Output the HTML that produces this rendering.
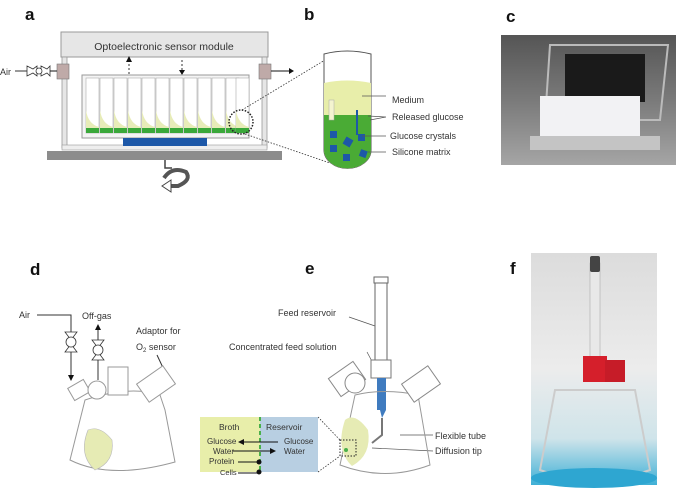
<!DOCTYPE html>
<html><head><meta charset="utf-8"><style>
body{margin:0;background:#fff}
svg{display:block;font-family:"Liberation Sans",sans-serif}
</style></head><body>
<svg width="676" height="495" viewBox="0 0 676 495" xmlns="http://www.w3.org/2000/svg">
<defs>
<linearGradient id="ph" x1="0" y1="0" x2="0" y2="1"><stop offset="0" stop-color="#555"/><stop offset="0.5" stop-color="#7a7a7a"/><stop offset="1" stop-color="#a5a5a5"/></linearGradient>
<linearGradient id="pf" x1="0" y1="0" x2="0" y2="1"><stop offset="0" stop-color="#dcdcdc"/><stop offset="0.5" stop-color="#ececec"/><stop offset="0.8" stop-color="#cfe4ea"/><stop offset="1" stop-color="#3fb0d6"/></linearGradient>
</defs>
<g font-weight="bold" font-size="17" fill="#111">
<text x="25" y="20">a</text><text x="304" y="20">b</text><text x="506" y="22">c</text>
<text x="30" y="275">d</text><text x="305" y="274">e</text><text x="510" y="274">f</text>
</g>
<!-- panel a -->
<rect x="61" y="32" width="207" height="25" fill="#e6e6e6" stroke="#999"/>
<text x="164" y="50" font-size="10.5" text-anchor="middle" fill="#333">Optoelectronic sensor module</text>
<rect x="62" y="57" width="5" height="91" fill="#e6e6e6" stroke="#999" stroke-width="0.8"/>
<rect x="262" y="57" width="5" height="91" fill="#e6e6e6" stroke="#999" stroke-width="0.8"/>
<rect x="62" y="145" width="205" height="5" fill="#eee" stroke="#999" stroke-width="0.6"/>
<rect x="47" y="151" width="235" height="9" fill="#8c8c8c"/>
<rect x="57" y="64" width="12" height="15" fill="#bfaaa8" stroke="#777" stroke-width="0.6"/>
<rect x="259" y="64" width="12" height="15" fill="#bfaaa8" stroke="#777" stroke-width="0.6"/>
<text x="0" y="75" font-size="9" fill="#333">Air</text>
<line x1="15" y1="71" x2="27" y2="71" stroke="#333"/>
<path d="M27 66 L33 69 L37 66 L37 76 L33 73 L27 76Z M41 66 L47 69 L50 66 L50 76 L47 73 L41 76Z" fill="#fff" stroke="#333" stroke-width="0.8"/>
<circle cx="39" cy="71" r="3" fill="#fff" stroke="#333" stroke-width="0.8"/>
<path d="M50 71 H57 M271 71 H289" stroke="#111"/><path d="M289 68 L294 71 L289 74Z M57 68 L57 74" fill="#111"/>
<path d="M129 74 V60 M182 60 V70" stroke="#333" stroke-dasharray="2,2"/>
<path d="M126 62 L129 56 L132 62Z M179 70 L185 70 L182 75Z" fill="#111"/>
<rect x="82" y="75" width="167" height="63" fill="#f4f4f4" stroke="#999"/>
<g id="wells">
<rect x="86" y="78" width="13" height="55" fill="#fff" stroke="#aaa" stroke-width="0.6"/>
<path d="M86 110 Q88 124 99 127 L99 133 L86 133Z" fill="#e7ecb8"/>
<rect x="86" y="128" width="13" height="5" fill="#3aa83a"/>
</g>
<use href="#wells" x="14"/><use href="#wells" x="28"/><use href="#wells" x="42"/><use href="#wells" x="56"/><use href="#wells" x="70"/><use href="#wells" x="84"/><use href="#wells" x="98"/><use href="#wells" x="112"/><use href="#wells" x="126"/><use href="#wells" x="140"/><use href="#wells" x="150"/>
<rect x="123" y="138" width="84" height="8" fill="#1d58a8"/>
<circle cx="241" cy="122" r="12" fill="none" stroke="#222" stroke-width="1.5" stroke-dasharray="1.5,1.5"/>
<path d="M242 110 L325 60 M245 134 L330 163" stroke="#333" stroke-width="0.8" stroke-dasharray="1.5,1.5"/>
<path d="M165 160 V168 H172" fill="none" stroke="#444" stroke-width="1.5"/>
<path d="M164 178 Q172 166 186 172 Q192 180 178 186 L170 186" fill="none" stroke="#555" stroke-width="4"/>
<path d="M171 180 L162 186 L171 192Z" fill="#fff" stroke="#444"/>
<!-- panel b -->
<path d="M324 54 Q347 48 371 54 V150 A23 18 0 0 1 324 150Z" fill="#fff" stroke="#555"/>
<path d="M324 83 Q347 78 371 83 V150 A23 18 0 0 1 324 150Z" fill="#e8eeaa"/>
<path d="M324 115 H371 V150 A23 18 0 0 1 324 150Z" fill="#4aab35"/>
<rect x="329" y="100" width="5" height="20" fill="#f4f4d0" stroke="#aaa" stroke-width="0.5"/>
<line x1="357" y1="110" x2="357" y2="135" stroke="#1d58a8" stroke-width="2"/>
<g fill="#1d58a8"><rect x="330" y="131" width="7" height="7"/><rect x="344" y="138" width="8" height="8" transform="rotate(30 348 142)"/><rect x="358" y="134" width="7" height="7"/><rect x="330" y="145" width="7" height="7"/><rect x="343" y="154" width="7" height="7"/><rect x="360" y="150" width="7" height="7" transform="rotate(20 363 153)"/></g>
<g stroke="#555" stroke-width="0.7"><path d="M362 96 H386 M368 116 L386 117 M370 120 L386 117 M362 136 H386 M368 152 H386"/></g>
<g font-size="9" fill="#333"><text x="392" y="103">Medium</text><text x="392" y="120">Released glucose</text><text x="390" y="139">Glucose crystals</text><text x="392" y="155">Silicone matrix</text></g>
<!-- photo c -->
<rect x="501" y="35" width="175" height="130" fill="url(#ph)"/>
<rect x="565" y="54" width="80" height="48" fill="#1a1a1a"/>
<path d="M550 45 H668 L660 120 H545Z" fill="none" stroke="#bbb" stroke-width="2"/>
<rect x="540" y="96" width="100" height="40" fill="#f2f2f4"/>
<rect x="530" y="136" width="130" height="14" fill="#c4c4c4"/>
<!-- panel d -->
<g font-size="9" fill="#333"><text x="19" y="318">Air</text><text x="82" y="319">Off-gas</text><text x="136" y="334">Adaptor for</text><text x="136" y="350">O<tspan font-size="6" dy="2">2</tspan><tspan dy="-2"> sensor</tspan></text></g>
<path d="M37 315 H71 V375 M98 380 V330 M157 355 L165 372" stroke="#333" fill="none"/>
<path d="M68 375 L74 375 L71 381Z M95 330 L101 330 L98 324Z" fill="#111"/>
<g fill="#fff" stroke="#333" stroke-width="0.8"><path d="M65 332 H77 L71 340Z M65 352 H77 L71 344Z M92 340 H104 L98 348Z M92 360 H104 L98 352Z"/><circle cx="71" cy="342" r="5"/><circle cx="98" cy="350" r="5"/></g>
<path d="M85 400 L70 460 Q110 480 175 462 L165 410 L160 395 Q130 385 85 400Z" fill="#fff" stroke="#999"/>
<path d="M88 430 Q78 455 95 470 Q115 462 112 440 Q100 425 88 430Z" fill="#e6ebb4" stroke="#bbb" stroke-width="0.6"/>
<rect x="108" y="367" width="20" height="28" fill="#fff" stroke="#999"/>
<rect x="140" y="373" width="32" height="22" fill="#fff" stroke="#999" transform="rotate(-35 156 384)"/>
<rect x="70" y="383" width="18" height="14" fill="#fff" stroke="#999" transform="rotate(-30 79 390)"/>
<circle cx="97" cy="390" r="9" fill="#fff" stroke="#999"/>
<!-- panel e -->
<g font-size="9" fill="#333"><text x="278" y="316">Feed reservoir</text><text x="229" y="350">Concentrated feed solution</text><text x="435" y="439">Flexible tube</text><text x="435" y="454">Diffusion tip</text></g>
<path d="M349 317 L375 326 M367 352 L382 380 M400 435 H433 M372 448 L433 451" stroke="#555" stroke-width="0.7"/>
<rect x="375" y="278" width="12" height="85" fill="#fff" stroke="#666"/>
<rect x="374" y="277" width="14" height="6" fill="#fff" stroke="#666"/>
<rect x="371" y="360" width="20" height="18" fill="#fff" stroke="#777"/>
<path d="M377 378 H386 V410 L382 418 L380 410 L377 410Z" fill="#3f7bbf"/>
<path d="M382 418 V435 L372 443" fill="none" stroke="#777" stroke-width="2"/>
<path d="M355 395 L340 465 Q385 482 430 465 L418 395 Q385 388 355 395Z" fill="none" stroke="#999"/>
<path d="M345 420 Q335 450 352 466 Q372 455 368 430 Q355 412 345 420Z" fill="#e6ebb4"/>
<rect x="332" y="368" width="30" height="22" fill="#fff" stroke="#888" transform="rotate(-35 347 379)"/>
<circle cx="355" cy="383" r="10" fill="#fff" stroke="#888"/>
<rect x="405" y="373" width="32" height="22" fill="#fff" stroke="#888" transform="rotate(-35 421 384)"/>
<rect x="340" y="440" width="16" height="16" fill="none" stroke="#222" stroke-dasharray="1.5,1.5"/>
<circle cx="346" cy="450" r="2" fill="#4ab04a"/>
<path d="M318 417 L340 440 M318 472 L340 456" stroke="#333" stroke-width="0.8" stroke-dasharray="1.5,1.5"/>
<rect x="200" y="417" width="60" height="55" fill="#e8eeaa"/>
<rect x="260" y="417" width="58" height="55" fill="#b8cfe2"/>
<line x1="260" y1="417" x2="260" y2="472" stroke="#4ab04a" stroke-width="2" stroke-dasharray="4,3"/>
<g font-size="8" fill="#333"><text x="219" y="430" font-size="8.5">Broth</text><text x="266" y="430" font-size="8.5">Reservoir</text>
<text x="207" y="444">Glucose</text><text x="284" y="444">Glucose</text><text x="213" y="454">Water</text><text x="284" y="454">Water</text><text x="209" y="464">Protein</text><text x="220" y="475" font-size="7.5">Cells</text></g>
<path d="M244 442 H278 M233 451 H270 M238 462 H257 M238 473 H257" stroke="#111"/>
<path d="M244 439 L238 442 L244 445Z M270 448 L276 451 L270 454Z" fill="#111"/>
<circle cx="259" cy="462" r="2.5" fill="#111"/><circle cx="259" cy="472" r="2.5" fill="#111"/>
<!-- photo f -->
<rect x="531" y="253" width="126" height="232" fill="url(#pf)"/>
<rect x="590" y="263" width="10" height="110" fill="#e8e8e8" stroke="#aaa" stroke-width="0.6"/>
<rect x="590" y="256" width="10" height="16" rx="2" fill="#444"/>
<rect x="583" y="356" width="24" height="26" fill="#d51f2b"/>
<rect x="605" y="360" width="20" height="22" fill="#c61c28"/>
<path d="M555 390 L540 470 Q595 490 650 470 L635 390Z" fill="none" stroke="#ccc" stroke-width="2"/>
<ellipse cx="594" cy="478" rx="63" ry="10" fill="#2ea6d1"/>
</svg>
</body></html>
